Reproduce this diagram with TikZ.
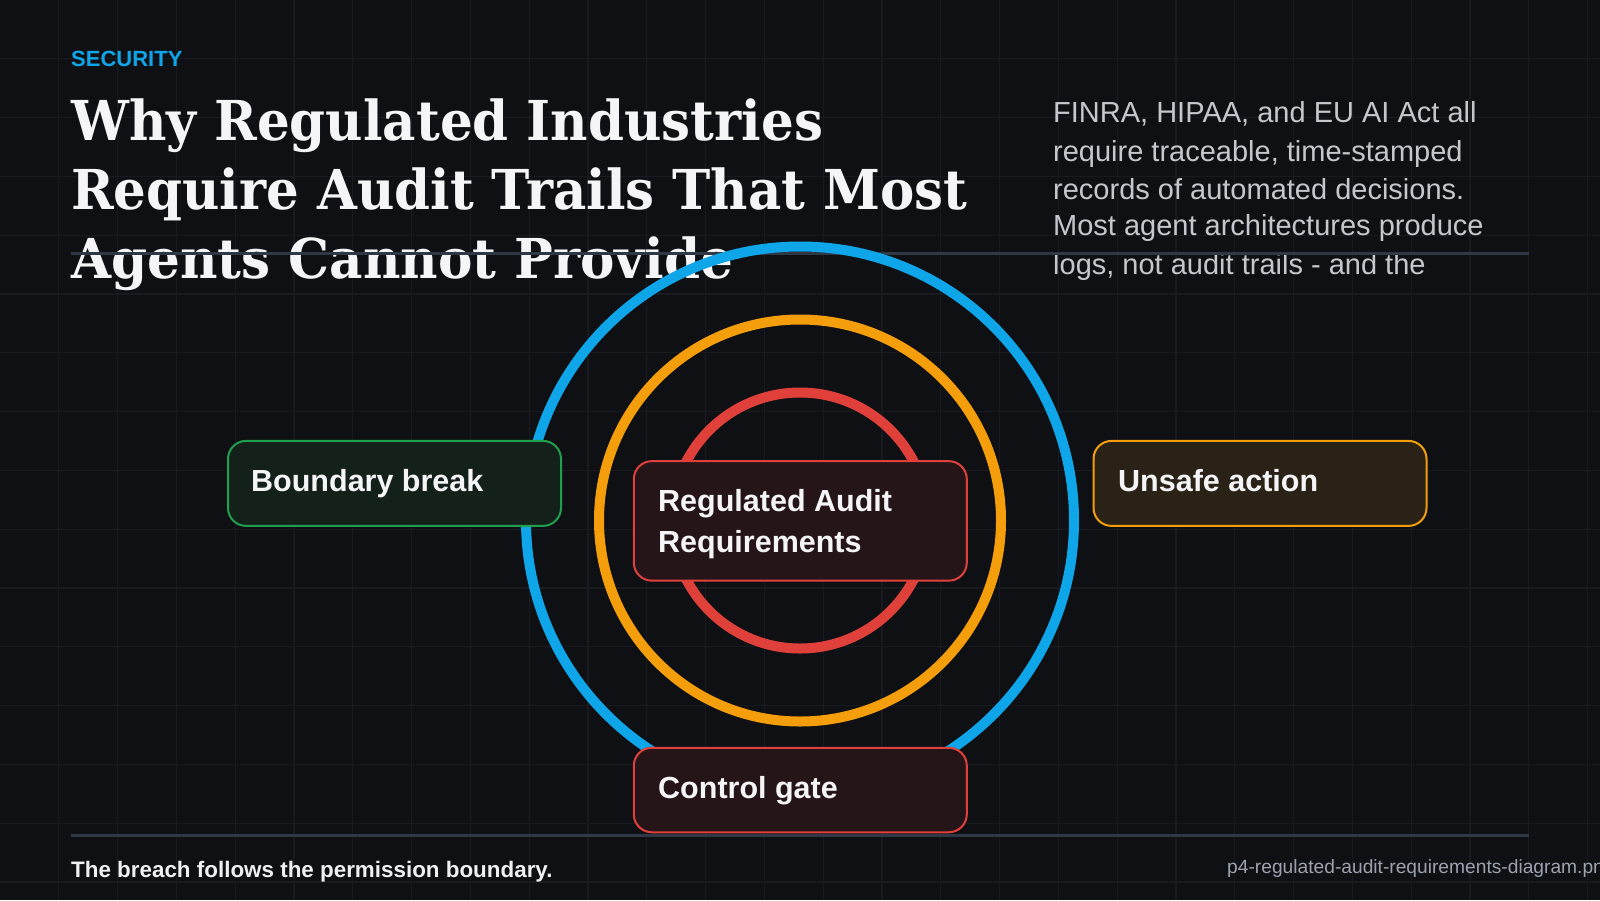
\documentclass[tikz,border=0pt]{standalone}
\usepackage{fontspec}
\usepackage{graphicx}
\setmainfont{Liberation Sans}
\newfontfamily\titlefam{DejaVu Serif}
\definecolor{bgc}{HTML}{0F1013}
\definecolor{gridc}{HTML}{181A1F}
\definecolor{titlec}{HTML}{F5F5F7}
\definecolor{kickc}{HTML}{0EA5E9}
\definecolor{parac}{HTML}{C4C8CE}
\definecolor{rulec}{HTML}{2F3845}
\definecolor{bluec}{HTML}{0EA5E9}
\definecolor{orangec}{HTML}{F59E0B}
\definecolor{redc}{HTML}{E0403A}
\definecolor{greenc}{HTML}{1FA04E}
\definecolor{redfill}{HTML}{251519}
\definecolor{orangefill}{HTML}{2A2216}
\definecolor{greenfill}{HTML}{14201A}
\definecolor{footc}{HTML}{F0F0F2}
\definecolor{filec}{HTML}{9CA3AF}
\tikzset{
  gridline/.style={draw=gridc, line width=1.3pt},
  titletext/.style={inner sep=0pt, anchor=base west, text=titlec, font=\titlefam\bfseries\fontsize{55}{69}\selectfont},
  paratext/.style={inner sep=0pt, anchor=base west, text=parac, font=\fontsize{29}{38}\selectfont},
  boxtext/.style={inner sep=0pt, anchor=base west, text=titlec, font=\bfseries\fontsize{30.5}{41}\selectfont},
  card/.style={rounded corners=18pt, line width=2pt, minimum width=333pt, inner sep=0pt},
  ring/.style={line width=10pt},
}
\begin{document}
\begin{tikzpicture}[x=1pt,y=-1pt]
\useasboundingbox (0,0) rectangle (1600,900);
\fill[bgc] (0,0) rectangle (1600,900);
% grid
\foreach \i in {1,...,27} \draw[gridline] (\i*58.8,0) -- (\i*58.8,900);
\foreach \j in {1,...,15} \draw[gridline] (0,\j*58.8) -- (1600,\j*58.8);
% kicker and title
\node[inner sep=0pt, anchor=base west, text=kickc, font=\bfseries\fontsize{22}{26}\selectfont] (kicker) at (71,66.7) {SECURITY};
\node[titletext] (title1) at (71,140) {\resizebox{752pt}{\height}{Why Regulated Industries}};
\node[titletext] (title2) at (71,209) {\resizebox{896pt}{\height}{Require Audit Trails That Most}};
\node[titletext] (title3) at (71,278) {\resizebox{662pt}{\height}{Agents Cannot Provide}};
% paragraph
\node[paratext] (p1) at (1053,122) {FINRA, HIPAA, and EU AI Act all};
\node[paratext] (p2) at (1053,161) {require traceable, time-stamped};
\node[paratext] (p3) at (1053,199) {records of automated decisions.};
\node[paratext] (p4) at (1053,235) {Most agent architectures produce};
\node[paratext] (p5) at (1053,274) {logs, not audit trails - and the};
% top rule
\coordinate (ruleA) at (71,253.5);
\coordinate (ruleB) at (1529,253.5);
\draw[rulec, line width=3pt] (ruleA) -- (ruleB);
% rings
\coordinate (ctr) at (800,520.5);
\draw[ring, bluec] (ctr) circle[radius=274pt];
\draw[ring, orangec] (ctr) circle[radius=201pt];
\draw[ring, redc] (ctr) circle[radius=128pt];
% cards
\node[card, draw=greenc, fill=greenfill, minimum height=85pt] (bb) at (394.5,483.4) {};
\node[card, draw=orangec, fill=orangefill, minimum height=85pt] (ua) at (1260,483.4) {};
\node[card, draw=redc, fill=redfill, minimum height=119.5pt] (rar) at (800.3,520.9) {};
\node[card, draw=redc, fill=redfill, minimum height=84.5pt] (cg) at (800.3,790) {};
\node[boxtext] (bbt) at (251,491.7) {Boundary break};
\node[boxtext] (uat) at (1118,491.7) {Unsafe action};
\node[boxtext] (rart1) at (658,511.7) {Regulated Audit};
\node[boxtext] (rart2) at (658,552.7) {Requirements};
\node[boxtext] (cgt) at (658,798) {Control gate};
% bottom rule and footer
\coordinate (footA) at (71,835.7);
\coordinate (footB) at (1529,835.7);
\draw[rulec, line width=3pt] (footA) -- (footB);
\node[inner sep=0pt, anchor=base west, text=footc, font=\bfseries\fontsize{22.4}{26}\selectfont] (foot) at (71,877) {The breach follows the permission boundary.};
\node[inner sep=0pt, anchor=base west, text=filec, font=\fontsize{19.2}{23}\selectfont] (file) at (1227,873) {p4-regulated-audit-requirements-diagram.png};
\end{tikzpicture}
\end{document}
